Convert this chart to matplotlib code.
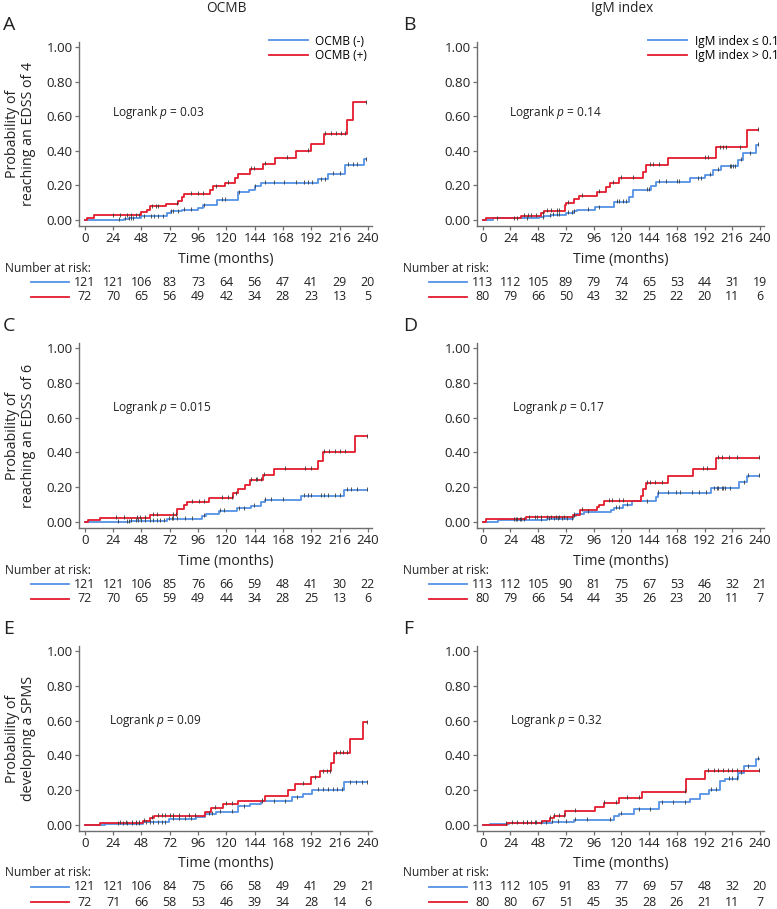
import numpy as np
import matplotlib.pyplot as plt

plt.rcParams['font.family'] = ['Open Sans', 'DejaVu Sans']
plt.rcParams['mathtext.fontset'] = 'custom'
plt.rcParams['mathtext.rm'] = 'Open Sans'
plt.rcParams['mathtext.it'] = 'Open Sans:italic'

BLUE = '#5592e6'
RED = '#e31b2d'
TXT = '#222222'
AXC = '#6e6e6e'

# =========================
# data (months, cumulative probability)
# =========================
risk_times = [0, 24, 48, 72, 96, 120, 144, 168, 192, 216, 240]

# A: OCMB, EDSS 4
a_blue_t = [0, 33, 37, 48, 70, 73, 82, 96, 100, 112, 130, 139, 144, 149, 198, 206, 221, 237, 238]
a_blue_s = [0, 0.006, 0.01, 0.02, 0.04, 0.05, 0.06, 0.07, 0.085, 0.117, 0.16, 0.175, 0.195, 0.215, 0.235, 0.268, 0.317, 0.35, 0.35]
a_red_t = [0, 2, 8, 48, 53, 55, 69, 79, 82, 84, 106, 109, 119, 127, 130, 140, 151, 161, 179, 192, 203, 222, 227, 238]
a_red_s = [0, 0.012, 0.027, 0.045, 0.06, 0.078, 0.095, 0.109, 0.132, 0.151, 0.171, 0.194, 0.216, 0.243, 0.268, 0.297, 0.326, 0.361, 0.398, 0.439, 0.497, 0.58, 0.68, 0.68]
a_blue_cens = [29, 34, 37, 39, 41, 50, 56, 59, 62, 66, 73, 75, 79, 84, 90, 101, 116, 119, 131, 144, 153, 160, 169, 179, 186, 189, 193, 200, 204, 210, 216, 223, 227, 231, 238]
a_red_cens = [24, 30, 36, 39, 43, 46, 57, 60, 62, 78, 90, 96, 100, 111, 121, 141, 143, 153, 171, 189, 204, 209, 213, 217, 221, 238]
a_risk_blue = [121, 121, 106, 83, 73, 64, 56, 47, 41, 29, 20]
a_risk_red = [72, 70, 65, 56, 49, 42, 34, 28, 23, 13, 5]

# B: IgM index, EDSS 4
b_blue_t = [0, 9, 49, 53, 59, 72, 79, 82, 97, 114, 127, 130, 146, 150, 179, 192, 199, 206, 221, 225, 237, 238]
b_blue_s = [0, 0.01, 0.015, 0.025, 0.03, 0.04, 0.05, 0.06, 0.073, 0.106, 0.13, 0.173, 0.196, 0.22, 0.24, 0.263, 0.29, 0.31, 0.346, 0.385, 0.433, 0.433]
b_red_t = [0, 3, 33, 50, 53, 71, 72, 79, 83, 99, 107, 110, 118, 139, 141, 160, 202, 229, 238]
b_red_s = [0, 0.01, 0.023, 0.038, 0.052, 0.087, 0.1, 0.119, 0.14, 0.163, 0.188, 0.215, 0.244, 0.28, 0.317, 0.36, 0.42, 0.52, 0.52]
b_blue_cens = [12, 38, 52, 58, 61, 64, 66, 74, 77, 79, 91, 101, 116, 118, 121, 124, 142, 144, 153, 159, 168, 170, 186, 189, 197, 204, 214, 215, 217, 218, 224, 231, 238]
b_red_cens = [27, 30, 36, 39, 42, 46, 52, 56, 59, 64, 66, 74, 86, 101, 113, 120, 130, 145, 147, 153, 192, 195, 205, 208, 211, 223, 238]
b_risk_blue = [113, 112, 105, 89, 79, 74, 65, 53, 44, 31, 19]
b_risk_red = [80, 79, 66, 50, 43, 32, 25, 22, 20, 11, 6]

# C: OCMB, EDSS 6
c_blue_t = [0, 38, 70, 99, 103, 114, 129, 141, 149, 153, 183, 220, 239]
c_blue_s = [0, 0.006, 0.019, 0.033, 0.045, 0.064, 0.078, 0.093, 0.113, 0.128, 0.15, 0.184, 0.184]
c_red_t = [0, 3, 13, 55, 78, 84, 87, 105, 126, 130, 136, 140, 151, 160, 198, 202, 229, 239]
c_red_s = [0, 0.012, 0.025, 0.039, 0.074, 0.097, 0.117, 0.138, 0.165, 0.19, 0.214, 0.243, 0.272, 0.305, 0.351, 0.402, 0.493, 0.493]
c_blue_cens = [28, 36, 37, 39, 43, 45, 48, 51, 55, 58, 61, 64, 67, 71, 74, 75, 78, 85, 91, 101, 115, 118, 131, 135, 143, 153, 158, 168, 186, 189, 192, 200, 203, 206, 212, 216, 222, 226, 231, 239]
c_red_cens = [26, 33, 44, 47, 51, 58, 61, 75, 77, 91, 97, 101, 116, 121, 125, 128, 141, 145, 146, 149, 152, 170, 187, 192, 203, 207, 212, 216, 221, 239]
c_risk_blue = [121, 121, 106, 85, 76, 66, 59, 48, 41, 30, 22]
c_risk_red = [72, 70, 65, 59, 49, 44, 34, 28, 25, 13, 6]

# D: IgM index, EDSS 6
d_blue_t = [0, 13, 56, 78, 81, 88, 111, 114, 121, 129, 150, 152, 198, 222, 229, 239]
d_blue_s = [0, 0.01, 0.019, 0.035, 0.045, 0.058, 0.07, 0.083, 0.097, 0.118, 0.145, 0.166, 0.193, 0.228, 0.265, 0.265]
d_red_t = [0, 3, 37, 78, 84, 99, 101, 105, 137, 139, 141, 160, 182, 202, 239]
d_red_s = [0, 0.014, 0.027, 0.04, 0.07, 0.087, 0.099, 0.12, 0.15, 0.19, 0.226, 0.267, 0.306, 0.367, 0.367]
d_blue_cens = [27, 30, 33, 36, 50, 57, 62, 65, 69, 73, 77, 79, 91, 115, 118, 125, 142, 152, 160, 167, 171, 181, 187, 193, 200, 203, 204, 207, 208, 210, 214, 226, 230, 239]
d_red_cens = [29, 32, 40, 45, 47, 50, 56, 59, 63, 66, 70, 79, 86, 109, 112, 118, 121, 142, 145, 149, 155, 191, 194, 204, 207, 213, 220, 239]
d_risk_blue = [113, 112, 105, 90, 81, 75, 67, 53, 46, 32, 21]
d_risk_red = [80, 79, 66, 54, 44, 35, 26, 23, 20, 11, 7]

# E: OCMB, SPMS
e_blue_t = [0, 17, 49, 71, 94, 102, 111, 130, 140, 149, 176, 185, 193, 220, 239]
e_blue_s = [0, 0.006, 0.015, 0.034, 0.048, 0.063, 0.075, 0.107, 0.12, 0.135, 0.158, 0.18, 0.2, 0.245, 0.245]
e_red_t = [0, 13, 49, 55, 59, 102, 107, 117, 130, 153, 172, 178, 192, 199, 209, 211, 225, 236, 239]
e_red_s = [0, 0.011, 0.025, 0.04, 0.053, 0.072, 0.097, 0.12, 0.139, 0.164, 0.2, 0.237, 0.273, 0.308, 0.357, 0.415, 0.494, 0.59, 0.59]
e_blue_cens = [28, 32, 36, 40, 43, 46, 52, 55, 58, 62, 65, 68, 75, 80, 85, 90, 105, 108, 115, 125, 135, 150, 160, 170, 180, 198, 202, 206, 210, 214, 218, 225, 230, 235, 239]
e_red_cens = [30, 35, 40, 43, 46, 50, 57, 62, 65, 68, 72, 75, 80, 88, 93, 110, 120, 125, 150, 185, 195, 202, 205, 208, 213, 216, 219, 222, 239]
e_risk_blue = [121, 121, 106, 84, 75, 66, 58, 49, 41, 29, 21]
e_risk_red = [72, 71, 66, 58, 53, 46, 39, 34, 28, 14, 6]

# F: IgM index, SPMS
f_blue_t = [0, 6, 23, 60, 79, 114, 118, 131, 153, 179, 188, 196, 205, 210, 221, 226, 237, 239]
f_blue_s = [0, 0.005, 0.01, 0.019, 0.03, 0.053, 0.063, 0.09, 0.13, 0.148, 0.177, 0.2, 0.25, 0.266, 0.3, 0.337, 0.38, 0.38]
f_red_t = [0, 21, 51, 58, 62, 71, 97, 105, 118, 138, 176, 192, 239]
f_red_s = [0, 0.011, 0.025, 0.04, 0.053, 0.082, 0.105, 0.126, 0.154, 0.19, 0.265, 0.312, 0.312]
f_blue_cens = [20, 30, 38, 45, 55, 60, 65, 72, 80, 90, 110, 120, 135, 145, 155, 165, 175, 198, 202, 213, 216, 220, 224, 230, 238]
f_red_cens = [25, 35, 38, 42, 46, 50, 58, 62, 66, 70, 80, 105, 115, 125, 135, 175, 195, 200, 204, 208, 212, 216, 220, 239]
f_risk_blue = [113, 112, 105, 91, 83, 77, 69, 57, 48, 32, 20]
f_risk_red = [80, 80, 67, 51, 45, 35, 28, 26, 21, 11, 7]

ocmb_labels = ['OCMB (-)', 'OCMB (+)']
igm_labels = ['IgM index \u2264 0.1', 'IgM index > 0.1']

# =========================
# layout (pixels of a 777 x 909 canvas)
# =========================
W, H = 777, 909
fig = plt.figure(figsize=(W / 100, H / 100), dpi=100)


def px_axes(left, top, right, bottom):
    return fig.add_axes([left / W, 1 - bottom / H, (right - left) / W, (bottom - top) / H])


panels = [
    # letter, box, curves, risk, p text, p pos, ylabel, legend
    ('A', (79, 42, 372, 226), (a_blue_t, a_blue_s, a_blue_cens), (a_red_t, a_red_s, a_red_cens),
     a_risk_blue, a_risk_red, '0.03', (23, 0.62), 'Probability of\nreaching an EDSS of 4', ocmb_labels),
    ('B', (477, 42, 764, 226), (b_blue_t, b_blue_s, b_blue_cens), (b_red_t, b_red_s, b_red_cens),
     b_risk_blue, b_risk_red, '0.14', (22.5, 0.62), None, igm_labels),
    ('C', (79, 343, 372, 528), (c_blue_t, c_blue_s, c_blue_cens), (c_red_t, c_red_s, c_red_cens),
     c_risk_blue, c_risk_red, '0.015', (23, 0.66), 'Probability of\nreaching an EDSS of 6', None),
    ('D', (477, 343, 764, 528), (d_blue_t, d_blue_s, d_blue_cens), (d_red_t, d_red_s, d_red_cens),
     d_risk_blue, d_risk_red, '0.17', (25, 0.66), None, None),
    ('E', (79, 646, 372, 831), (e_blue_t, e_blue_s, e_blue_cens), (e_red_t, e_red_s, e_red_cens),
     e_risk_blue, e_risk_red, '0.09', (20.5, 0.60), 'Probability of\ndeveloping a SPMS', None),
    ('F', (477, 646, 764, 831), (f_blue_t, f_blue_s, f_blue_cens), (f_red_t, f_red_s, f_red_cens),
     f_risk_blue, f_risk_red, '0.32', (24, 0.60), None, None),
]

XMIN, XMAX = -5, 243.5

for letter, box, blue, red, rb, rr, ptxt, ppos, ylab, leg in panels:
    left, top, right, bottom = box
    ax = px_axes(left, top, right, bottom)
    ax.set_xlim(XMIN, XMAX)
    ax.set_ylim(-0.035, 1.03)

    handles = []
    for (t, s, cens), col in [(blue, BLUE), (red, RED)]:
        h, = ax.step(t, s, where='post', color=col, lw=1.3, zorder=3)
        handles.append(h)
        idx = np.searchsorted(t, cens, side='right') - 1
        ax.plot(cens, np.asarray(s)[idx] + 0.004, ls='none', marker='|', ms=3,
                mew=0.6, color='#3a3a3a', zorder=4)

    for sp in ['top', 'right']:
        ax.spines[sp].set_visible(False)
    for sp in ['left', 'bottom']:
        ax.spines[sp].set_color(AXC)
        ax.spines[sp].set_linewidth(1.0)

    ax.set_xticks(risk_times)
    ax.set_yticks([0, 0.2, 0.4, 0.6, 0.8, 1.0])
    ax.set_yticklabels(['0.00', '0.20', '0.40', '0.60', '0.80', '1.00'])
    ax.tick_params(axis='both', colors=AXC, labelcolor=TXT, labelsize=9.6, length=3, width=0.9, pad=1.5)
    ax.set_xlabel('Time (months)', fontsize=10.2, color=TXT, labelpad=4.5)

    ax.text(ppos[0], ppos[1], 'Logrank $p$ = ' + ptxt, fontsize=8.6, color=TXT, va='center', ha='left')

    if ylab:
        ax.text(-0.2, 0.5, ylab, transform=ax.transAxes, rotation=90, ha='center', va='center',
                fontsize=10.3, color=TXT, linespacing=1.1)

    if leg:
        ax.legend(handles, leg, loc='upper left', bbox_to_anchor=(0.648 if letter == 'A' else 0.596, 1.04),
                  frameon=False, fontsize=8.6, handlelength=3.3, handletextpad=0.6,
                  labelspacing=0.1, borderpad=0, borderaxespad=0)

    # number at risk table
    ppm = (right - left) / (XMAX - XMIN)   # pixels per month
    ah = bottom - top
    tr = ax.get_xaxis_transform()
    ax.text(-80 / ppm, -42 / ah, 'Number at risk:', transform=tr, fontsize=8.6, color=TXT,
            ha='left', va='center', clip_on=False)
    for row, (vals, col) in enumerate([(rb, BLUE), (rr, RED)]):
        yy = -(56 + 15 * row) / ah
        ax.plot([-54 / ppm, -16 / ppm], [yy, yy], color=col, lw=1.3, transform=tr, clip_on=False)
        for tt, v in zip(risk_times, vals):
            ax.text(tt, yy, str(v), transform=tr, fontsize=8.9, color=TXT,
                    ha='center', va='center', clip_on=False)

    fig.text((left - 76 if letter in 'ACE' else left - 74) / W, 1 - (top - 17) / H, letter,
             fontsize=14, color=TXT, ha='left', va='center')

fig.text(226 / W, 1 - 8 / H, 'OCMB', fontsize=9.8, color=TXT, ha='center', va='center')
fig.text(622 / W, 1 - 8 / H, 'IgM index', fontsize=9.8, color=TXT, ha='center', va='center')

fig.savefig('out.png', dpi=100, facecolor='white')
